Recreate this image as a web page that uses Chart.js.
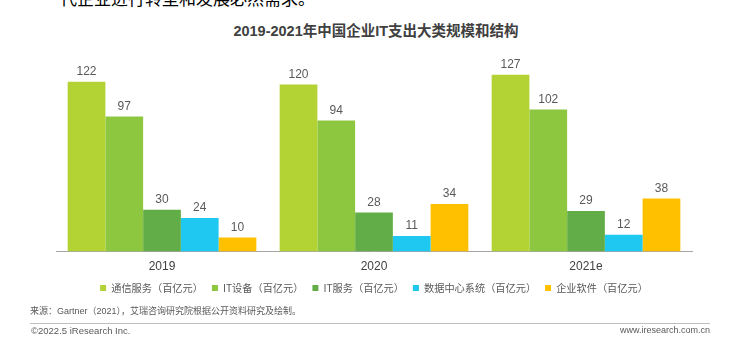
<!DOCTYPE html>
<html>
<head>
<meta charset="utf-8">
<script src="https://cdn.jsdelivr.net/npm/chart.js@4"></script>
<style>
  body { margin: 0; width: 734px; height: 352px; background: #fff; position: relative; overflow: hidden;
         font-family: Arial, "Liberation Sans", "Noto Sans CJK SC", sans-serif; }
  .abs { position: absolute; white-space: nowrap; }
  #lead { left: 60px; top: -15px; font-size: 17px; color: #000; }
  #title { left: 0; width: 752px; top: 19px; text-align: center; font-size: 14.5px; font-weight: bold; color: #404040; }
  #box { position: absolute; left: 0; top: 0; width: 734px; height: 307px; }
  #src { left: 30px; top: 304px; font-size: 9px; color: #595959; }
  #rule { position: absolute; left: 30px; top: 323px; width: 680px; height: 1px; background: #bfbfbf; }
  #copy { left: 31px; top: 325px; font-size: 9.5px; color: #595959; }
  #site { right: 24px; top: 325px; font-size: 9px; color: #595959; }
</style>
</head>
<body>
<div class="abs" id="lead">代企业进行转型和发展必然需求。</div>
<div class="abs" id="title">2019-2021年中国企业IT支出大类规模和结构</div>
<div id="box"><canvas id="myChart"></canvas></div>
<div class="abs" id="src">来源：Gartner（2021），艾瑞咨询研究院根据公开资料研究及绘制。</div>
<div id="rule"></div>
<div class="abs" id="copy">©2022.5 iResearch Inc.</div>
<div class="abs" id="site">www.iresearch.com.cn</div>
<script>
const years = ['2019', '2020', '2021e'];
const seriesNames = ['通信服务（百亿元）', 'IT设备（百亿元）', 'IT服务（百亿元）', '数据中心系统（百亿元）', '企业软件（百亿元）'];
const telecom = [122, 120, 127];
const itDevices = [97, 94, 102];
const itServices = [30, 28, 29];
const dataCenter = [24, 11, 12];
const software = [10, 34, 38];
const colors = ['#b3d234', '#8dc63f', '#62ad47', '#1fc8f0', '#ffc000'];

const valueLabels = {
    id: 'valueLabels',
    afterDatasetsDraw(chart) {
        const ctx = chart.ctx;
        ctx.save();
        ctx.font = '12px Arial, "Liberation Sans", sans-serif';
        ctx.fillStyle = '#595959';
        ctx.textAlign = 'center';
        ctx.textBaseline = 'bottom';
        chart.data.datasets.forEach((ds, i) => {
            chart.getDatasetMeta(i).data.forEach((bar, j) => {
                ctx.fillText(ds.data[j], bar.x, bar.y - 4);
            });
        });
        ctx.restore();
    }
};

const allSeries = [telecom, itDevices, itServices, dataCenter, software];
const ctx = document.getElementById('myChart').getContext('2d');
const chart = new Chart(ctx, {
    type: 'bar',
    data: {
        labels: years,
        datasets: allSeries.map((d, i) => ({
            label: seriesNames[i],
            data: d,
            backgroundColor: colors[i],
            borderWidth: 0,
            categoryPercentage: 0.89,
            barPercentage: 1
        }))
    },
    options: {
        responsive: true,
        maintainAspectRatio: false,
        animation: false,
        layout: { padding: { top: 58, left: 56, right: 42, bottom: 4 } },
        scales: {
            x: {
                grid: { display: false },
                border: { display: true, color: '#a6a6a6', width: 1 },
                ticks: { color: '#404040', font: { size: 12, family: 'Arial, "Liberation Sans", sans-serif' }, padding: 0 }
            },
            y: {
                display: false,
                min: 0,
                max: 139
            }
        },
        plugins: {
            legend: {
                position: 'bottom',
                labels: {
                    boxWidth: 6,
                    boxHeight: 6,
                    padding: 9,
                    color: '#595959',
                    font: { size: 10.2, family: '"Noto Sans CJK SC", sans-serif' }
                }
            },
            tooltip: { enabled: false }
        }
    },
    plugins: [valueLabels]
});
</script>
</body>
</html>
